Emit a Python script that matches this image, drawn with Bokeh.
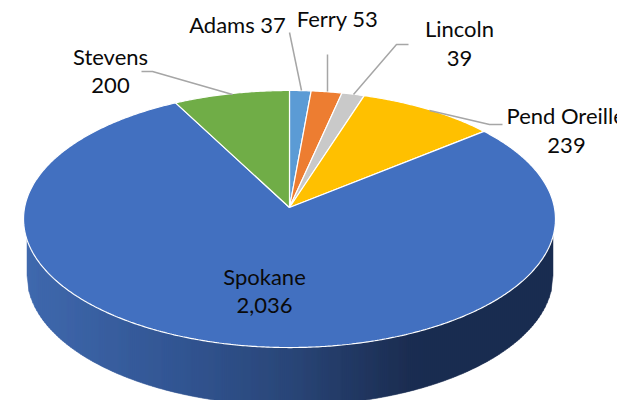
import numpy as np
from bokeh.core.properties import value
from bokeh.embed import file_html
from bokeh.models import Range1d
from bokeh.plotting import figure
from bokeh.resources import INLINE

# --- data, clockwise from 12 o'clock
counties = ["Adams", "Ferry", "Lincoln", "Pend Oreille", "Spokane", "Stevens"]
counts = [37, 53, 39, 239, 2036, 200]
slice_colors = ["#5b9bd5", "#ed7d31", "#c9c9c9", "#ffc000", "#4270c0", "#70ad47"]

W, H = 617, 400
FS = "22px"
FONT = "Lato"
INK = "#0a0a0a"
LEAD = "#a6a6a6"

# projection of the tilted disc (pixel units of the picture, y down)
CX, CY = 289.0, 207.0
A, K = 127.5, 0.0895
R = 264.9


def project(theta):
    u, v = np.sin(theta), -np.cos(theta)
    w = 1 - K * v
    return CX + R * u / w, CY + A * v / w


p = figure(width=W, height=H, output_backend="svg", toolbar_location=None,
           x_range=Range1d(0, W), y_range=Range1d(H, 0),
           min_border=0, min_border_left=0, min_border_right=0,
           min_border_top=0, min_border_bottom=0, outline_line_color=None)
p.axis.visible = False
p.grid.visible = False
p.background_fill_color = "white"
p.border_fill_color = "white"

# side wall of the disc: vertical shaded strips under the lower rim
stops_x = [24, 180, 290, 400, 425, 556]
stops_rgb = np.array([[0x40, 0x69, 0xae], [0x32, 0x55, 0x92], [0x2a, 0x46, 0x78],
                      [0x1c, 0x2f, 0x54], [0x1a, 0x2c, 0x50], [0x1a, 0x2c, 0x50]], float)
LOW_CX, LOW_CY, LOW_RY, LOW_RX = 289.5, 275.0, 130.0, 263.0
edges = np.arange(LOW_CX - LOW_RX, LOW_CX + LOW_RX + 2, 2.0)
edges = np.clip(edges, LOW_CX - LOW_RX, LOW_CX + LOW_RX)
dx = (edges - LOW_CX) / LOW_RX
low_y = LOW_CY + LOW_RY * np.sqrt(np.clip(1 - dx ** 2, 0, 1))
mid = (edges[:-1] + edges[1:]) / 2
strip_colors = ["#%02x%02x%02x" % tuple(int(round(np.interp(m, stops_x, stops_rgb[:, i]))) for i in range(3))
                for m in mid]
xs = [[edges[i], edges[i + 1], edges[i + 1], edges[i]] for i in range(len(mid))]
ys = [[225.0, 225.0, low_y[i + 1], low_y[i]] for i in range(len(mid))]
p.patches(xs, ys, fill_color=strip_colors, line_color=strip_colors, line_width=0.5)

# slices of the top face, angles taken from the counts
total = sum(counts)
start = 0.0
for n, col in zip(counts, slice_colors):
    end = start + n / total * 2 * np.pi
    th = np.linspace(start, end, max(6, int((end - start) * 120)))
    x, y = project(th)
    p.patch(np.r_[CX, x], np.r_[CY, y], fill_color=col, line_color="white", line_width=1.2)
    start = end

# leader lines
leaders = [
    ([289, 301], [32, 90]),
    ([327, 327], [54, 91]),
    ([408, 396, 353], [44, 44, 94]),
    ([429, 489, 502], [110, 124, 124]),
    ([141, 152, 232], [71, 71, 94]),
]
for lx, ly in leaders:
    p.line(lx, ly, line_color=LEAD, line_width=1.5)

# labels
labels = [
    (f"{counties[0]} {counts[0]}", 237, 23.5),
    (f"{counties[1]} {counts[1]}", 337, 17.5),
    (counties[2], 459, 27.5),
    (str(counts[2]), 459, 58),
    (counties[3], 506, 114.5),
    (str(counts[3]), 566, 145),
    (counties[4], 264, 275.5),
    (f"{counts[4]:,}", 264, 305),
    (counties[5], 110, 55.5),
    (str(counts[5]), 110, 85),
]
for t, x, y in labels:
    p.text([x], [y], text=[t], text_font=value(FONT), text_font_size=FS, text_color=INK,
           text_align="left" if t == counties[3] else "center", text_baseline="middle")

open("out.html", "w").write(file_html(p, INLINE))
